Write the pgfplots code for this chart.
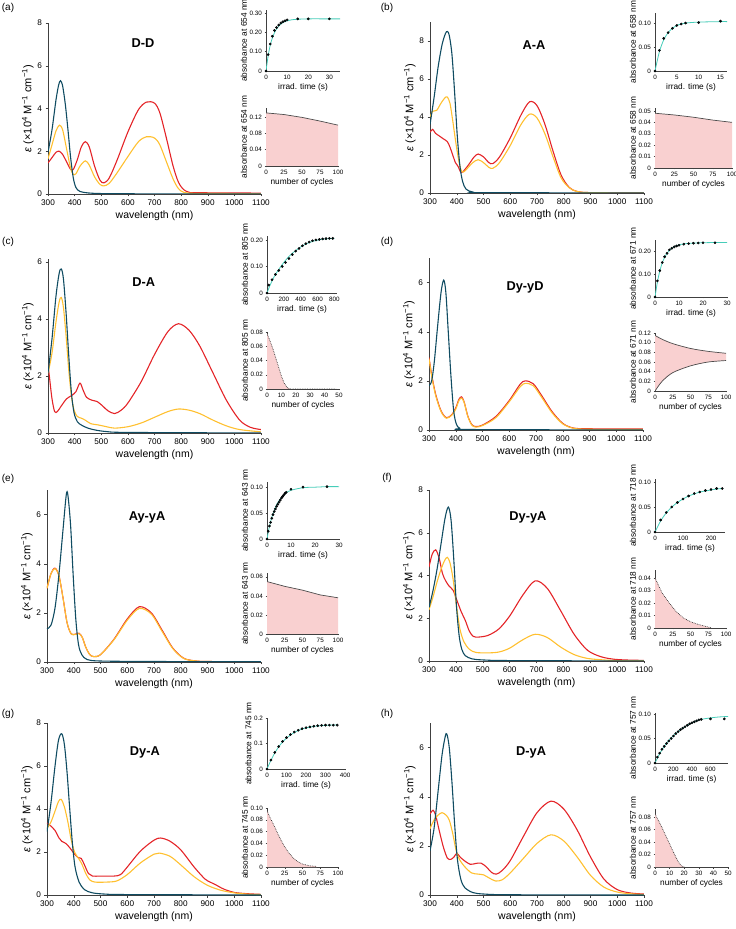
\documentclass[border=0pt]{standalone}
\usepackage{pgfplots}
\pgfplotsset{compat=1.18}
\usepackage{fontspec}
\setmainfont{Liberation Sans}
\definecolor{cT}{RGB}{16,76,98}
\definecolor{cY}{RGB}{255,192,48}
\definecolor{cR}{RGB}{228,36,40}
\definecolor{cF}{RGB}{70,205,185}
\definecolor{cP}{RGB}{249,208,208}
\tikzset{ttl/.style={font=\bfseries\fontsize{12.8}{14}\selectfont}}
\pgfplotsset{
 every axis/.append style={/pgf/number format/assume math mode=true, /pgf/number format/1000 sep={}, scaled ticks=false, scale only axis, anchor=south west, axis lines*=left, tick align=outside, axis line style={black!75, line width=0.5pt}, tick style={black!75, line width=0.4pt}},
 mainax/.style={xmin=300, xmax=1100, ymin=0, xtick={300,400,...,1100}, major tick length=2.5pt, tick label style={font=\fontsize{8.2}{9}\selectfont}, label style={font=\fontsize{10.5}{12}\selectfont}, xlabel={wavelength (nm)}, ylabel={{\itshape ε} (×10\textsuperscript{4} M\textsuperscript{−1} cm\textsuperscript{−1})}, ylabel style={yshift=-3pt, font=\fontsize{11}{12}\selectfont}, xlabel style={yshift=2pt}, every axis plot/.append style={smooth, tension=0.5, line width=1.1pt, no markers}},
 inax/.style={xmin=0, ymin=0, major tick length=1.5pt, tick label style={font=\fontsize{6.3}{7}\selectfont}, label style={font=\fontsize{8.3}{9}\selectfont}, xlabel style={yshift=3pt}, ylabel style={yshift=-4pt}, xticklabel style={yshift=1pt}, yticklabel style={xshift=1pt}},
 topin/.style={inax, xlabel={irrad. time (s)}},
 botin/.style={inax, xlabel={number of cycles}},
 fit/.style={cF, line width=0.8pt, smooth, no markers},
 pts/.style={only marks, mark=*, mark size=1.15pt, black, mark options={fill=black!80!cT}},
 env/.style={black!70, line width=0.7pt, no markers},
 envd/.style={black!80, densely dotted, line width=0.7pt, no markers},
 pk/.style={fill=cP, draw=none, no markers},
}
\begin{document}
\begin{tikzpicture}
\useasboundingbox (0,0) rectangle (736pt,929pt);
\node[font=\fontsize{10}{12}\selectfont] at (8pt,921pt) {(a)};
\node[font=\fontsize{10}{12}\selectfont] at (387pt,921pt) {(b)};
\node[font=\fontsize{10}{12}\selectfont] at (8pt,687pt) {(c)};
\node[font=\fontsize{10}{12}\selectfont] at (387pt,687pt) {(d)};
\node[font=\fontsize{10}{12}\selectfont] at (8pt,450pt) {(e)};
\node[font=\fontsize{10}{12}\selectfont] at (387pt,451pt) {(f)};
\node[font=\fontsize{10}{12}\selectfont] at (8pt,215pt) {(g)};
\node[font=\fontsize{10}{12}\selectfont] at (387pt,215pt) {(h)};

% ===== (a) D-D =====
\begin{axis}[mainax, at={(48pt,735pt)}, width=213pt, height=171pt, ymax=8, ytick={0,2,4,6,8}]
\addplot[cR] coordinates {(300,1.45)(315,1.7)(330,1.95)(342,2.0)(355,1.85)(370,1.5)(385,1.15)(395,1.15)(410,1.6)(425,2.2)(440,2.45)(455,2.2)(475,1.3)(495,0.65)(510,0.52)(530,0.75)(560,1.6)(600,2.9)(640,3.95)(670,4.3)(700,4.25)(720,3.8)(745,2.6)(770,1.3)(790,0.55)(810,0.2)(830,0.08)(850,0.06)(1000,0.05)(1100,0.04)};
\addplot[cY] coordinates {(300,1.65)(315,2.3)(330,2.95)(343,3.22)(355,3.0)(370,2.1)(385,1.2)(395,0.92)(405,0.95)(420,1.3)(440,1.55)(455,1.35)(475,0.8)(495,0.45)(510,0.38)(530,0.5)(560,1.0)(600,1.75)(640,2.45)(670,2.68)(700,2.62)(720,2.3)(745,1.5)(770,0.7)(790,0.25)(810,0.08)(850,0.03)(1000,0.02)(1100,0.02)};
\addplot[cT] coordinates {(300,1.95)(315,3.0)(330,4.4)(340,5.1)(347,5.3)(355,5.05)(365,4.2)(375,3.0)(385,1.7)(395,0.75)(405,0.3)(420,0.12)(450,0.05)(500,0.02)(600,0.01)(800,0.005)(1100,0)};
\node[ttl] at (axis cs:657,7.06) {D-D};
\end{axis}
\begin{axis}[topin, at={(266pt,858pt)}, width=74pt, height=61pt, xmax=35, ymax=0.316, xtick={0,10,20,30}, ytick={0,0.1,0.2,0.3}, yticklabels={0,0.10,0.20,0.30}, ylabel={absorbance at 654 nm}]
\addplot[fit] coordinates {(0,0)(1,0.077)(2,0.134)(3,0.17)(4,0.198)(5,0.218)(6,0.232)(7,0.243)(8,0.251)(10,0.26)(12,0.265)(15,0.268)(20,0.27)(30,0.27)(35,0.27)};
\addplot[pts] coordinates {(0,0)(1,0.085)(2,0.14)(3,0.18)(4,0.21)(5,0.225)(6,0.238)(7,0.248)(8,0.255)(9,0.26)(10,0.265)(15,0.27)(20,0.27)(30,0.27)};
\end{axis}
\begin{axis}[botin, at={(266pt,763pt)}, width=72pt, height=58pt, xmax=100, ymax=0.142, xtick={0,25,50,75,100}, ytick={0,0.04,0.08,0.12}, yticklabels={0,0.04,0.08,0.12}, ylabel={absorbance at 654 nm}]
\addplot[pk] coordinates {(0,0.13)(25,0.126)(50,0.119)(75,0.11)(100,0.1)} \closedcycle;
\addplot[env] coordinates {(0,0.13)(25,0.126)(50,0.119)(75,0.11)(100,0.1)};
\end{axis}

% ===== (b) A-A =====
\begin{axis}[mainax, at={(430pt,736pt)}, width=214pt, height=171pt, ymax=9, ytick={0,2,4,6,8}]
\addplot[cR] coordinates {(300,3.2)(310,3.35)(320,3.15)(335,3.0)(350,2.85)(365,2.7)(375,2.4)(385,2.0)(395,1.6)(405,1.4)(415,1.1)(425,1.15)(445,1.5)(465,1.9)(480,2.05)(500,1.9)(520,1.6)(535,1.55)(560,1.9)(600,2.9)(640,4.1)(672,4.8)(700,4.6)(730,3.6)(760,2.2)(790,0.95)(820,0.3)(850,0.08)(900,0.02)(1100,0)};
\addplot[cY] coordinates {(300,4.0)(310,4.3)(325,4.35)(340,4.7)(355,5.0)(365,5.05)(375,4.7)(385,3.8)(395,2.8)(405,1.9)(415,1.25)(425,1.1)(440,1.3)(460,1.6)(480,1.75)(500,1.6)(520,1.35)(535,1.3)(560,1.6)(600,2.5)(640,3.6)(672,4.15)(700,3.95)(730,3.1)(760,1.9)(790,0.8)(820,0.28)(850,0.08)(900,0.02)(1100,0)};
\addplot[cT] coordinates {(300,3.6)(315,5.0)(330,6.6)(345,7.8)(358,8.4)(365,8.5)(372,8.3)(382,7.3)(392,5.3)(402,3.0)(412,1.4)(422,0.6)(435,0.2)(460,0.05)(500,0.02)(1100,0)};
\node[ttl] at (axis cs:689,7.8) {A-A};
\end{axis}
\begin{axis}[topin, at={(655pt,858pt)}, width=72pt, height=58pt, xmax=16.5, ymax=0.121, xtick={0,5,10,15}, ytick={0,0.05,0.1}, yticklabels={0,0.05,0.10}, ylabel={absorbance at 658 nm}]
\addplot[fit] coordinates {(0,0)(1,0.04)(2,0.065)(3,0.08)(4,0.089)(5,0.095)(6,0.098)(7,0.1)(10,0.102)(15,0.103)(16.5,0.103)};
\addplot[pts] coordinates {(0,0)(1,0.043)(2,0.068)(3,0.08)(4,0.089)(5,0.095)(6,0.098)(7,0.1)(10,0.101)(15,0.104)};
\end{axis}
\begin{axis}[botin, at={(655pt,761pt)}, width=77pt, height=60pt, xmax=100, ymax=0.0526, xtick={0,25,50,75,100}, ytick={0,0.01,0.02,0.03,0.04,0.05}, yticklabels={0,0.01,0.02,0.03,0.04,0.05}, ylabel={absorbance at 658 nm}]
\addplot[pk] coordinates {(0,0.048)(25,0.0465)(50,0.0445)(75,0.042)(100,0.04)} \closedcycle;
\addplot[env] coordinates {(0,0.048)(25,0.0465)(50,0.0445)(75,0.042)(100,0.04)};
\end{axis}

% ===== (c) D-A =====
\begin{axis}[mainax, at={(48pt,496pt)}, width=213pt, height=174pt, ymax=6.1, ytick={0,2,4,6}]
\addplot[cR] coordinates {(300,2.4)(305,2.0)(315,1.2)(325,0.75)(335,0.75)(350,0.95)(370,1.2)(390,1.32)(405,1.45)(420,1.75)(432,1.5)(445,1.25)(465,1.15)(485,1.1)(505,0.95)(525,0.78)(550,0.68)(575,0.8)(600,1.05)(650,1.8)(700,2.75)(750,3.55)(790,3.83)(830,3.6)(870,3.05)(920,2.1)(970,1.15)(1020,0.45)(1060,0.2)(1100,0.12)};
\addplot[cY] coordinates {(300,2.1)(315,2.8)(330,3.9)(342,4.6)(350,4.75)(358,4.4)(368,3.4)(378,2.2)(388,1.3)(398,0.8)(410,0.58)(425,0.52)(440,0.45)(460,0.33)(490,0.28)(520,0.22)(550,0.17)(600,0.22)(650,0.35)(700,0.55)(750,0.75)(790,0.84)(830,0.8)(870,0.68)(920,0.45)(970,0.25)(1020,0.12)(1100,0.04)};
\addplot[cT] coordinates {(300,2.1)(315,3.3)(330,4.8)(342,5.6)(350,5.75)(358,5.4)(368,4.2)(378,2.7)(388,1.4)(398,0.7)(410,0.4)(425,0.28)(450,0.17)(480,0.1)(520,0.05)(600,0.02)(1100,0)};
\node[ttl] at (axis cs:660,5.3) {D-A};
\end{axis}
\begin{axis}[topin, at={(267pt,636pt)}, width=70pt, height=57pt, xmax=830, ymax=0.215, xtick={0,200,400,600,800}, ytick={0,0.1,0.2}, yticklabels={0,0.10,0.20}, ylabel={absorbance at 805 nm}]
\addplot[fit] coordinates {(0,0)(40,0.032)(100,0.07)(180,0.107)(260,0.138)(340,0.16)(420,0.178)(500,0.19)(580,0.198)(660,0.203)(740,0.205)(800,0.206)};
\addplot[pts] coordinates {(0,0)(20,0.03)(60,0.05)(100,0.07)(140,0.085)(180,0.1)(220,0.115)(260,0.13)(300,0.145)(340,0.158)(380,0.168)(420,0.178)(460,0.186)(500,0.192)(540,0.197)(580,0.2)(620,0.202)(660,0.204)(700,0.205)(740,0.206)(780,0.206)};
\end{axis}
\begin{axis}[botin, at={(267pt,540pt)}, width=72pt, height=57pt, xmax=50, ymax=0.08, xtick={0,10,20,30,40,50}, ytick={0,0.02,0.04,0.06,0.08}, yticklabels={0,0.02,0.04,0.06,0.08}, ylabel={absorbance at 805 nm}]
\addplot[pk] coordinates {(0,0.078)(2,0.068)(4,0.057)(6,0.044)(8,0.031)(10,0.018)(12,0.008)(14,0.002)(16,0)} \closedcycle;
\addplot[envd] coordinates {(0,0.078)(2,0.068)(4,0.057)(6,0.044)(8,0.031)(10,0.018)(12,0.008)(14,0.002)(16,0)(48,0)};
\end{axis}

% ===== (d) Dy-yD =====
\begin{axis}[mainax, at={(429pt,499pt)}, width=214pt, height=172pt, ymax=7, ytick={0,2,4,6}]
\addplot[cR] coordinates {(300,2.95)(310,2.25)(325,1.45)(345,0.78)(365,0.5)(385,0.62)(400,0.9)(412,1.25)(422,1.35)(432,1.12)(445,0.57)(460,0.22)(475,0.14)(500,0.2)(550,0.55)(600,1.2)(640,1.85)(660,2.0)(690,1.88)(720,1.42)(760,0.75)(800,0.27)(840,0.08)(900,0.05)(1100,0.04)};
\addplot[cY] coordinates {(300,2.9)(310,2.2)(325,1.4)(345,0.75)(365,0.48)(385,0.6)(400,0.85)(412,1.2)(422,1.3)(432,1.1)(445,0.55)(460,0.2)(475,0.12)(500,0.18)(550,0.5)(600,1.15)(640,1.75)(660,1.9)(690,1.8)(720,1.35)(760,0.7)(800,0.25)(840,0.07)(900,0.03)(1100,0.02)};
\addplot[cT] coordinates {(300,1.8)(310,2.0)(320,2.8)(332,4.2)(345,5.6)(355,6.1)(363,5.6)(372,4.0)(382,2.2)(392,0.8)(402,0.25)(415,0.07)(450,0.02)(1100,0)};
\node[ttl] at (axis cs:659,5.82) {Dy-yD};
\end{axis}
\begin{axis}[topin, at={(655pt,632pt)}, width=72pt, height=57pt, xmax=30, ymax=0.248, xtick={0,10,20,30}, ytick={0,0.1,0.2}, yticklabels={0,0.10,0.20}, ylabel={absorbance at 671 nm}]
\addplot[fit] coordinates {(0,0)(1,0.065)(2,0.113)(3,0.148)(4,0.172)(5,0.19)(6,0.203)(7,0.212)(8,0.219)(10,0.227)(12,0.231)(15,0.234)(20,0.236)(25,0.237)(30,0.237)};
\addplot[pts] coordinates {(0,0)(1,0.07)(2,0.115)(3,0.15)(4,0.175)(5,0.19)(6,0.205)(7,0.212)(8,0.218)(9,0.222)(10,0.225)(12,0.23)(14,0.232)(16,0.234)(18,0.235)(20,0.236)(25,0.236)};
\end{axis}
\begin{axis}[botin, at={(655pt,538pt)}, width=71pt, height=58pt, xmax=100, ymax=0.12, xtick={0,25,50,75,100}, ytick={0,0.02,0.04,0.06,0.08,0.1,0.12}, yticklabels={0,0.02,0.04,0.06,0.08,0.10,0.12}, ylabel={absorbance at 671 nm}]
\addplot[pk] coordinates {(0,0.115)(10,0.107)(25,0.098)(50,0.088)(75,0.082)(100,0.078)(100,0.063)(75,0.06)(50,0.052)(25,0.038)(10,0.02)(0,0)} --cycle;
\addplot[env, smooth] coordinates {(0,0.115)(10,0.107)(25,0.098)(50,0.088)(75,0.082)(100,0.078)};
\addplot[env, smooth] coordinates {(0,0)(10,0.02)(25,0.038)(50,0.052)(75,0.06)(100,0.063)};
\end{axis}

% ===== (e) Ay-yA =====
\begin{axis}[mainax, at={(47pt,267pt)}, width=214pt, height=172pt, ymax=7, ytick={0,2,4,6}]
\addplot[cR] coordinates {(300,3.0)(315,3.6)(330,3.82)(345,3.5)(360,2.6)(375,1.6)(390,1.15)(405,1.13)(420,1.17)(432,1.0)(445,0.6)(460,0.3)(475,0.22)(500,0.3)(550,0.92)(600,1.75)(645,2.25)(690,2.0)(730,1.3)(770,0.57)(810,0.16)(850,0.05)(900,0.02)(1100,0.01)};
\addplot[cY] coordinates {(300,3.0)(315,3.6)(330,3.8)(345,3.5)(360,2.6)(375,1.6)(390,1.15)(405,1.12)(420,1.15)(432,1.0)(445,0.6)(460,0.3)(475,0.22)(500,0.3)(550,0.9)(600,1.7)(645,2.18)(690,1.95)(730,1.25)(770,0.55)(810,0.15)(850,0.05)(900,0.02)(1100,0.01)};
\addplot[cT] coordinates {(300,1.35)(315,1.5)(330,2.2)(345,3.6)(360,5.4)(372,6.8)(378,6.8)(388,5.6)(398,3.5)(408,1.7)(418,0.7)(430,0.3)(450,0.1)(500,0.04)(700,0.02)(1100,0.01)};
\node[ttl] at (axis cs:674,5.9) {Ay-yA};
\end{axis}
\begin{axis}[topin, at={(267pt,390pt)}, width=72pt, height=57pt, xmax=30, ymax=0.11, xtick={0,10,20,30}, ytick={0,0.05,0.1}, yticklabels={0,0.05,0.10}, ylabel={absorbance at 643 nm}]
\addplot[fit] coordinates {(0,0)(1,0.024)(2,0.042)(3,0.055)(4,0.066)(5,0.074)(6,0.08)(8,0.089)(10,0.094)(15,0.099)(20,0.1)(25,0.101)(30,0.101)};
\addplot[pts] coordinates {(0,0)(0.5,0.015)(1,0.025)(1.5,0.032)(2,0.04)(2.5,0.047)(3,0.053)(3.5,0.058)(4,0.063)(4.5,0.067)(5,0.071)(5.5,0.075)(6,0.079)(6.5,0.082)(7,0.085)(7.5,0.088)(8,0.09)(10,0.096)(15,0.1)(25,0.101)};
\end{axis}
\begin{axis}[botin, at={(267pt,295pt)}, width=71pt, height=61pt, xmax=100, ymax=0.064, xtick={0,25,50,75,100}, ytick={0,0.02,0.04,0.06}, yticklabels={0,0.02,0.04,0.06}, ylabel={absorbance at 643 nm}]
\addplot[pk] coordinates {(0,0.055)(25,0.05)(50,0.046)(75,0.041)(100,0.038)} \closedcycle;
\addplot[env] coordinates {(0,0.055)(25,0.05)(50,0.046)(75,0.041)(100,0.038)};
\end{axis}

% ===== (f) Dy-yA =====
\begin{axis}[mainax, at={(429pt,268pt)}, width=215pt, height=171pt, ymax=8, ytick={0,2,4,6,8}]
\addplot[cR] coordinates {(300,4.4)(312,5.0)(325,5.2)(338,4.8)(350,4.1)(362,3.75)(375,3.5)(390,3.3)(405,2.8)(420,2.3)(435,1.9)(450,1.4)(465,1.15)(485,1.12)(520,1.2)(560,1.5)(600,2.1)(650,3.1)(695,3.75)(740,3.4)(790,2.35)(840,1.25)(890,0.5)(940,0.2)(990,0.08)(1050,0.04)(1100,0.03)};
\addplot[cY] coordinates {(300,2.4)(315,3.0)(330,3.7)(345,4.3)(358,4.7)(368,4.85)(378,4.6)(390,3.8)(402,2.6)(415,1.5)(430,0.9)(450,0.55)(475,0.4)(520,0.38)(560,0.42)(600,0.6)(650,1.0)(695,1.25)(740,1.1)(790,0.65)(840,0.3)(890,0.12)(950,0.05)(1000,0.02)(1100,0.01)};
\addplot[cT] coordinates {(300,2.5)(315,3.3)(330,4.3)(345,5.5)(360,6.7)(372,7.2)(382,6.6)(392,4.8)(402,2.6)(412,1.2)(422,0.55)(435,0.25)(460,0.1)(500,0.05)(600,0.02)(1100,0)};
\node[ttl] at (axis cs:668,6.74) {Dy-yA};
\end{axis}
\begin{axis}[topin, at={(655pt,397pt)}, width=70pt, height=53pt, xmax=250, ymax=0.106, xtick={0,100,200}, ytick={0,0.05,0.1}, yticklabels={0,0.05,0.10}, ylabel={absorbance at 718 nm}]
\addplot[fit] coordinates {(0,0)(20,0.022)(40,0.038)(60,0.05)(80,0.059)(100,0.066)(120,0.072)(140,0.076)(160,0.08)(180,0.082)(200,0.084)(220,0.086)(240,0.087)};
\addplot[pts] coordinates {(0,0)(20,0.024)(40,0.039)(60,0.05)(80,0.059)(100,0.066)(120,0.072)(140,0.077)(160,0.08)(180,0.083)(200,0.085)(220,0.087)(240,0.087)};
\end{axis}
\begin{axis}[botin, at={(655pt,301pt)}, width=71pt, height=58pt, xmax=100, ymax=0.0464, xtick={0,25,50,75,100}, ytick={0,0.01,0.02,0.03,0.04}, yticklabels={0,0.01,0.02,0.03,0.04}, ylabel={absorbance at 718 nm}]
\addplot[pk] coordinates {(0,0.04)(5,0.034)(10,0.028)(20,0.02)(30,0.013)(40,0.008)(50,0.005)(60,0.003)(70,0.0015)(80,0)} \closedcycle;
\addplot[envd] coordinates {(0,0.04)(5,0.034)(10,0.028)(20,0.02)(30,0.013)(40,0.008)(50,0.005)(60,0.003)(70,0.0015)(80,0)};
\end{axis}

% ===== (g) Dy-A =====
\begin{axis}[mainax, at={(47pt,34pt)}, width=214pt, height=172pt, ymax=8, ytick={0,2,4,6,8}]
\addplot[cR] coordinates {(300,3.35)(315,3.2)(330,3.0)(345,2.65)(355,2.5)(370,2.4)(385,2.2)(400,1.95)(415,1.75)(428,1.7)(440,1.4)(455,1.0)(470,0.88)(500,0.88)(550,0.88)(575,0.95)(600,1.3)(650,2.05)(700,2.55)(725,2.65)(760,2.5)(800,2.1)(850,1.3)(890,0.75)(910,0.6)(930,0.48)(960,0.28)(1000,0.12)(1050,0.06)(1100,0.03)};
\addplot[cY] coordinates {(300,3.1)(315,3.4)(330,3.9)(343,4.35)(353,4.45)(365,4.1)(378,3.4)(390,2.6)(403,2.0)(418,1.7)(430,1.45)(445,1.0)(460,0.7)(480,0.6)(520,0.6)(560,0.65)(600,0.95)(650,1.5)(700,1.9)(720,1.95)(760,1.8)(800,1.4)(850,0.85)(900,0.45)(950,0.22)(1000,0.1)(1050,0.04)(1100,0.02)};
\addplot[cT] coordinates {(300,2.95)(315,4.3)(330,6.0)(343,7.2)(355,7.5)(365,7.0)(375,5.7)(385,4.0)(395,2.4)(405,1.3)(420,0.6)(440,0.25)(470,0.1)(520,0.04)(600,0.02)(1100,0)};
\node[ttl] at (axis cs:666,6.65) {Dy-A};
\end{axis}
\begin{axis}[topin, at={(267pt,160pt)}, width=78pt, height=51pt, xmax=400, ymax=0.2, xtick={0,100,200,300,400}, ytick={0,0.1,0.2}, yticklabels={0,0.1,0.2}, ylabel={absorbance at 745 nm}]
\addplot[fit] coordinates {(0,0)(20,0.034)(40,0.063)(60,0.087)(80,0.106)(100,0.121)(120,0.133)(140,0.143)(160,0.151)(180,0.157)(200,0.161)(240,0.167)(280,0.17)(320,0.172)(360,0.173)};
\addplot[pts] coordinates {(0,0)(20,0.035)(40,0.065)(60,0.088)(80,0.108)(100,0.123)(120,0.135)(140,0.145)(160,0.152)(180,0.158)(200,0.162)(220,0.165)(240,0.168)(260,0.17)(280,0.171)(300,0.172)(320,0.172)(340,0.172)(360,0.172)};
\end{axis}
\begin{axis}[botin, at={(267pt,62pt)}, width=71pt, height=59pt, xmax=100, ymax=0.1, xtick={0,25,50,75,100}, ytick={0,0.02,0.04,0.06,0.08,0.1}, yticklabels={0,0.02,0.04,0.06,0.08,0.10}, ylabel={absorbance at 745 nm}]
\addplot[pk] coordinates {(0,0.095)(5,0.082)(10,0.07)(15,0.057)(20,0.045)(25,0.034)(30,0.025)(35,0.018)(40,0.012)(45,0.008)(50,0.005)(60,0.002)(70,0.001)} \closedcycle;
\addplot[envd] coordinates {(0,0.095)(5,0.082)(10,0.07)(15,0.057)(20,0.045)(25,0.034)(30,0.025)(35,0.018)(40,0.012)(45,0.008)(50,0.005)(60,0.002)(70,0.001)};
\end{axis}

% ===== (h) D-yA =====
\begin{axis}[mainax, at={(430pt,34pt)}, width=214pt, height=172pt, ymax=7, ytick={0,2,4,6}]
\addplot[cR] coordinates {(300,3.3)(312,3.45)(322,3.2)(335,2.6)(350,1.95)(365,1.5)(378,1.45)(390,1.55)(400,1.7)(412,1.55)(428,1.4)(450,1.25)(470,1.28)(490,1.3)(510,1.15)(530,0.92)(548,0.85)(570,1.0)(600,1.4)(650,2.4)(700,3.35)(752,3.82)(800,3.5)(850,2.65)(900,1.55)(950,0.65)(1000,0.22)(1050,0.08)(1100,0.04)};
\addplot[cY] coordinates {(300,2.7)(315,3.05)(330,3.25)(345,3.35)(360,3.25)(372,3.05)(385,2.5)(398,1.8)(410,1.45)(430,1.15)(455,0.9)(480,0.85)(500,0.82)(520,0.7)(545,0.57)(570,0.62)(600,0.9)(650,1.5)(700,2.1)(752,2.45)(800,2.2)(850,1.55)(900,0.8)(950,0.32)(1000,0.12)(1050,0.05)(1100,0.02)};
\addplot[cT] coordinates {(300,1.8)(315,2.7)(330,4.2)(345,5.7)(357,6.45)(363,6.55)(372,6.0)(382,4.6)(392,2.9)(402,1.5)(415,0.65)(430,0.3)(460,0.1)(500,0.04)(600,0.01)(1100,0)};
\node[ttl] at (axis cs:678,5.82) {D-yA};
\end{axis}
\begin{axis}[topin, at={(655pt,166pt)}, width=73pt, height=50pt, xmax=790, ymax=0.102, xtick={0,200,400,600}, ytick={0,0.05,0.1}, yticklabels={0,0.05,0.10}, ylabel={absorbance at 757 nm}]
\addplot[fit] coordinates {(0,0)(50,0.019)(100,0.034)(150,0.046)(200,0.056)(250,0.064)(300,0.071)(350,0.077)(400,0.082)(450,0.086)(500,0.089)(600,0.092)(700,0.094)(790,0.095)};
\addplot[pts] coordinates {(0,0)(25,0.012)(50,0.02)(75,0.028)(100,0.034)(125,0.04)(150,0.045)(175,0.05)(200,0.055)(225,0.06)(250,0.064)(275,0.068)(300,0.071)(325,0.074)(350,0.077)(375,0.08)(400,0.082)(425,0.084)(450,0.086)(475,0.088)(500,0.089)(600,0.09)(750,0.09)};
\end{axis}
\begin{axis}[botin, at={(655pt,62pt)}, width=73pt, height=58pt, xmax=50, ymax=0.093, xtick={0,10,20,30,40,50}, ytick={0,0.02,0.04,0.06,0.08}, yticklabels={0,0.02,0.04,0.06,0.08}, ylabel={absorbance at 757 nm}]
\addplot[pk] coordinates {(0,0.085)(2,0.076)(4,0.067)(6,0.057)(8,0.047)(10,0.037)(12,0.027)(14,0.017)(16,0.008)(18,0.002)(20,0)} \closedcycle;
\addplot[envd] coordinates {(0,0.085)(2,0.076)(4,0.067)(6,0.057)(8,0.047)(10,0.037)(12,0.027)(14,0.017)(16,0.008)(18,0.002)(20,0)};
\end{axis}
\end{tikzpicture}
\end{document}
